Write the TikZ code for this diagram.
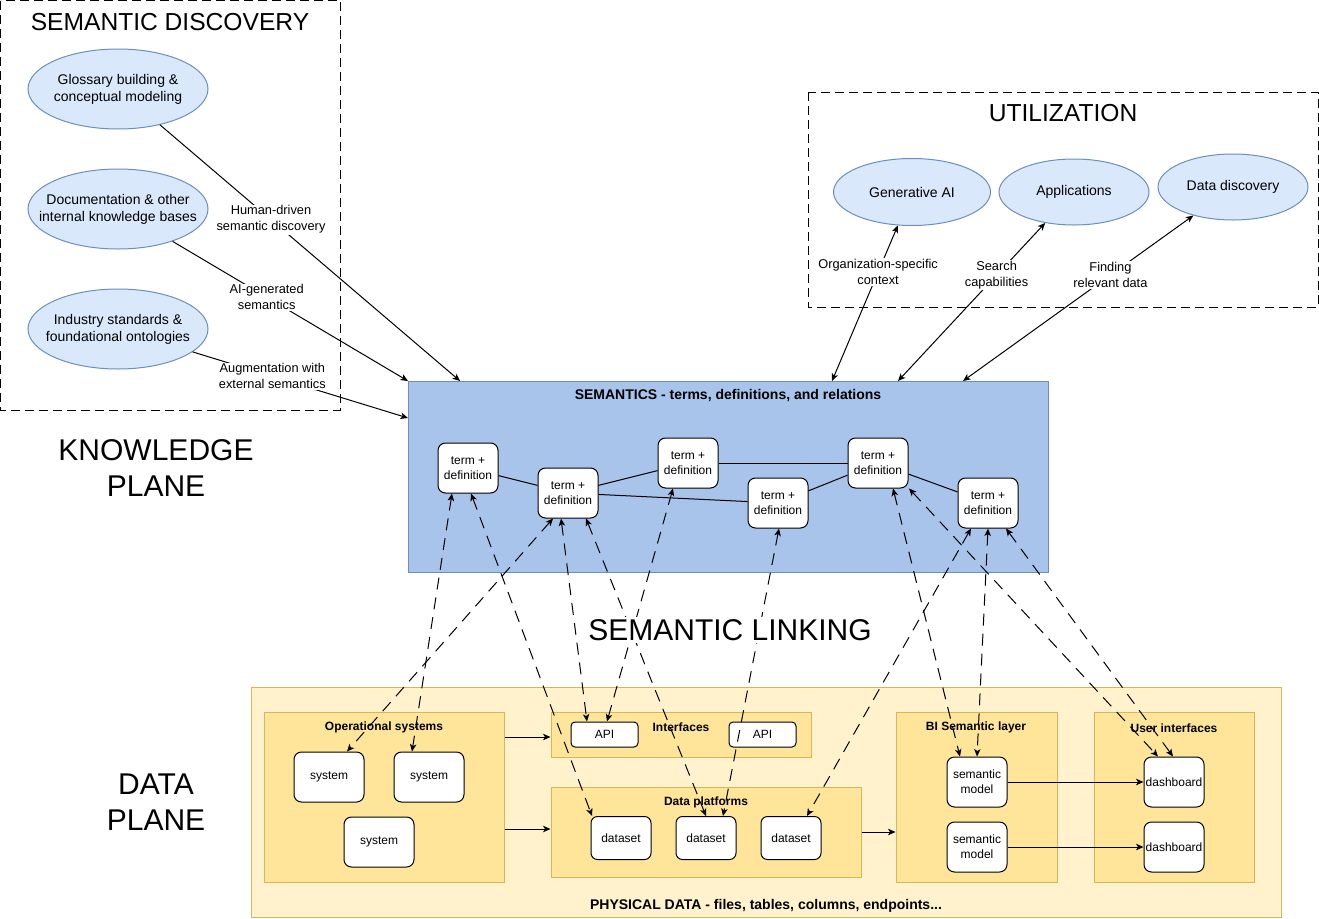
\documentclass[tikz,border=0pt]{standalone}
\usepackage{fontspec}
\setmainfont{Liberation Sans}
\usetikzlibrary{arrows.meta,shapes.geometric,calc}
\definecolor{ellfill}{HTML}{DAE8FC}
\definecolor{bluestroke}{HTML}{6C8EBF}
\definecolor{semfill}{HTML}{A9C4EB}
\definecolor{yelout}{HTML}{FFF2CC}
\definecolor{yelin}{HTML}{FFE599}
\definecolor{yelstroke}{HTML}{D6B656}
\begin{document}
\begin{tikzpicture}[x=1pt,y=-1pt,line width=1pt,
 >={Stealth[length=7.5pt,width=6.5pt,inset=2pt]},
 ell/.style={ellipse,draw=bluestroke,fill=ellfill,inner sep=0pt},
 elltext/.style={align=center,inner sep=0pt,font=\fontsize{14pt}{17pt}\selectfont},
 dbox/.style={draw,dash pattern=on 9pt off 5pt},
 lbl/.style={fill=white,inner sep=1pt,align=center,font=\fontsize{12.8pt}{16pt}\selectfont},
 term/.style={draw,fill=white,rounded corners=7.5pt,minimum width=60pt,minimum height=50pt,inner sep=0pt,align=center,font=\fontsize{12pt}{15pt}\selectfont},
 wbox/.style={draw,fill=white,inner sep=0pt,align=center,font=\fontsize{12pt}{15pt}\selectfont},
 grp/.style={draw=yelstroke,fill=yelin,inner sep=0pt},
 gtitle/.style={font=\fontsize{12pt}{15pt}\selectfont\bfseries,inner sep=1pt},
 btitle/.style={font=\fontsize{14pt}{17pt}\selectfont\bfseries,inner sep=1pt},
 big/.style={align=center,font=\fontsize{30pt}{36pt}\selectfont},
 region/.style={font=\fontsize{24.6pt}{30pt}\selectfont,inner sep=0pt},
 dlink/.style={<->,dash pattern=on 12pt off 8pt},
 sarrow/.style={->}
]
\useasboundingbox (0,0) rectangle (1319,918);

% ---------- regions ----------
\draw[dbox] (0.5,0.5) rectangle (340,410);
\node[region] (tdisc) at (170,22) {SEMANTIC DISCOVERY};
\draw[dbox] (808,92) rectangle (1318,307);
\node[region] (tutil) at (1063,113) {UTILIZATION};

% ---------- discovery ellipses ----------
\node[ell,minimum width=180pt,minimum height=80pt] (e1) at (118,89) {};
\node[elltext] (e1t) at (e1) {Glossary building \&\\conceptual modeling};
\node[ell,minimum width=180pt,minimum height=80pt] (e2) at (118,209) {};
\node[elltext] (e2t) at (e2) {Documentation \& other\\internal knowledge bases};
\node[ell,minimum width=180pt,minimum height=80pt] (e3) at (118,329) {};
\node[elltext] (e3t) at (e3) {Industry standards \&\\foundational ontologies};

% ---------- utilization ellipses ----------
\node[ell,minimum width=157pt,minimum height=67pt] (gai) at (912,192) {};
\node[elltext] (gait) at (gai) {Generative AI};
\node[ell,minimum width=150pt,minimum height=66pt] (app) at (1074,192) {};
\node[elltext] (appt) at (app) {Applications};
\node[ell,minimum width=150pt,minimum height=66pt] (dd) at (1233,187) {};
\node[elltext] (ddt) at (dd) {Data discovery};

% ---------- semantics box ----------
\node[draw=bluestroke,fill=semfill,minimum width=640pt,minimum height=191pt,inner sep=0pt] (sem) at (728,476.5) {};
\node[btitle] (semt) at (728,396) {SEMANTICS - terms, definitions, and relations};

\coordinate (s1) at (460,381);
\coordinate (s2) at (408,381);
\coordinate (s3) at (408,418);
\coordinate (s4) at (832,381);
\coordinate (s5) at (898,381);
\coordinate (s6) at (963,381);

\draw[->] (e1) -- node[lbl,pos=0.37] (l1) {Human-driven\\semantic discovery} (s1);
\draw[->] (e2) -- node[lbl,pos=0.40] (l2) {AI-generated\\semantics} (s2);
\draw[->] (e3) -- node[lbl,pos=0.37] (l3) {Augmentation with\\external semantics} (s3);

\draw[<->] (s4) -- node[lbl,pos=0.70] (l4) {Organization-specific\\context} (gai);
\draw[<->] (s5) -- node[lbl,pos=0.67] (l5) {Search\\capabilities} (app);
\draw[<->] (s6) -- node[lbl,pos=0.64] (l6) {Finding\\relevant data} (dd);

% ---------- terms ----------
\node[term] (t1) at (468,468) {term +\\definition};
\node[term] (t2) at (568,493) {term +\\definition};
\node[term] (t3) at (688,463) {term +\\definition};
\node[term] (t4) at (778,503) {term +\\definition};
\node[term] (t5) at (878,463) {term +\\definition};
\node[term] (t6) at (988,503) {term +\\definition};
\draw (t1) -- (t2);
\draw (t2) -- (t3);
\draw (t2) -- (t4);
\draw (t3) -- (t5);
\draw (t4) -- (t5);
\draw (t5) -- (t6);

% ---------- data plane ----------
\node[draw=yelstroke,fill=yelout,minimum width=1030pt,minimum height=230pt,inner sep=0pt] (phys) at (766,802) {};
\node[btitle] (physt) at (766,906) {PHYSICAL DATA - files, tables, columns, endpoints...};

\node[grp,minimum width=240pt,minimum height=170pt] (op) at (384,797) {};
\node[grp,minimum width=260pt,minimum height=45pt] (ifc) at (681,734.5) {};
\node[grp,minimum width=310pt,minimum height=90pt] (dp) at (706,832) {};
\node[grp,minimum width=161pt,minimum height=170pt] (bi) at (976.5,797) {};
\node[grp,minimum width=160pt,minimum height=170pt] (ui) at (1174,797) {};

\node[gtitle] (opt) at (384,727) {Operational systems};
\node[gtitle] (ifct) at (681,727) {Interfaces};
\node[gtitle] (dpt) at (706,802) {Data platforms};
\node[gtitle] (bit) at (976,727) {BI Semantic layer};
\node[gtitle] (uit) at (1174,728) {User interfaces};

\node[wbox,rounded corners=7.5pt,minimum width=70pt,minimum height=50pt] (sys1) at (329,777) {system};
\node[wbox,rounded corners=7.5pt,minimum width=70pt,minimum height=50pt] (sys2) at (429,777) {system};
\node[wbox,rounded corners=7.5pt,minimum width=70pt,minimum height=50pt] (sys3) at (379,842) {system};

\node[wbox,rounded corners=4pt,minimum width=67pt,minimum height=25pt] (api1) at (604.5,734.5) {API};
\node[wbox,rounded corners=4pt,minimum width=67pt,minimum height=25pt] (api2) at (762.5,734.5) {API};

\node[wbox,rounded corners=6.5pt,minimum width=60pt,minimum height=43pt] (ds1) at (621,838) {dataset};
\node[wbox,rounded corners=6.5pt,minimum width=60pt,minimum height=43pt] (ds2) at (706,838) {dataset};
\node[wbox,rounded corners=6.5pt,minimum width=60pt,minimum height=43pt] (ds3) at (791,838) {dataset};

\node[wbox,rounded corners=7.5pt,minimum width=60pt,minimum height=50pt] (sm1) at (977,782) {semantic\\model};
\node[wbox,rounded corners=7.5pt,minimum width=60pt,minimum height=50pt] (sm2) at (977,847) {semantic\\model};

\node[wbox,rounded corners=7.5pt,minimum width=60pt,minimum height=50pt] (db1) at (1174,782) {dashboard};
\node[wbox,rounded corners=7.5pt,minimum width=60pt,minimum height=50pt] (db2) at (1174,847) {dashboard};

% solid flows
\draw[->] (op.east |- 0,737) -- (ifc.west |- 0,737);
\draw[->] (op.east |- 0,829) -- (dp.west |- 0,829);
\draw[->] (dp.east |- 0,832) -- (bi.west |- 0,832);
\draw[->] (sm1) -- (db1);
\draw[->] (sm2) -- (db2);

% ---------- semantic linking (dashed) ----------
\draw[dlink] ([xshift=-16pt]t1.south) -- ([xshift=-17pt]sys2.north);
\draw[dlink] ([xshift=3pt]t1.south) -- ([xshift=-29pt]ds1.north);
\draw[dlink] ([xshift=-15pt]t2.south) -- ([xshift=18pt]sys1.north);
\draw[dlink] ([xshift=-7pt]t2.south) -- ([xshift=-17.5pt]api1.north);
\draw[dlink] ([xshift=18pt]t2.south) -- (ds2.north);
\draw[dlink] ([xshift=-15pt]t3.south) -- ([xshift=2.5pt]api1.north);
\draw[dlink] ([xshift=1pt]t4.south) -- ([xshift=17pt]ds2.north);
\draw[dlink] ([xshift=15pt]t5.south) -- ([xshift=-17pt]sm1.north);
\draw[dlink] ([xshift=31pt]t5.south) -- ([xshift=-16pt]db1.north);
\draw[dlink] ([xshift=-17pt]t6.south) -- ([xshift=16pt]ds3.north);
\draw[dlink] (t6.south) -- (sm1.north);
\draw[dlink] ([xshift=18pt]t6.south) -- ([xshift=-1pt]db1.north);

% ---------- big labels ----------
\node[big] (kp) at (156,468) {KNOWLEDGE\\PLANE};
\node[big] (dpl) at (156,802) {DATA\\PLANE};
\node[big,fill=white,inner sep=2pt] (sl) at (730,630) {SEMANTIC LINKING};
\end{tikzpicture}
\end{document}
